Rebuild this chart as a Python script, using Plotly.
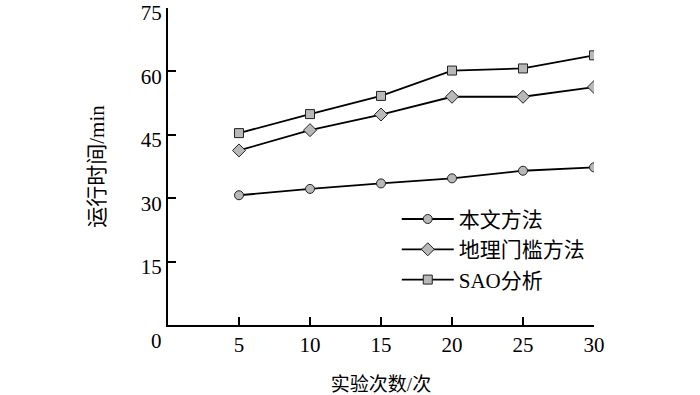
import plotly.graph_objects as go

runs = [5, 10, 15, 20, 25, 30]
ours = [30.7, 32.2, 33.5, 34.7, 36.5, 37.3]
geo_threshold = [41.3, 46.1, 49.8, 54.0, 54.0, 56.3]
sao = [45.4, 49.9, 54.2, 60.2, 60.7, 63.8]
names = ["本文方法", "地理门槛方法", "SAO分析"]
x_ticks = [5, 10, 15, 20, 25, 30]
y_ticks = [15, 30, 45, 60, 75]

FONT = "Liberation Serif, Times New Roman, Noto Sans CJK SC"
fig = go.Figure()
for vals, nm, sym, sz in [(ours, names[0], "circle", 9),
                          (geo_threshold, names[1], "diamond", 10),
                          (sao, names[2], "square", 9)]:
    fig.add_trace(go.Scatter(
        x=runs, y=vals, name=nm, mode="lines+markers",
        line=dict(color="black", width=1.8),
        marker=dict(symbol=sym, size=sz, color="#b8b8b8",
                    line=dict(color="#222", width=1)),
    ))

fig.update_layout(
    width=700, height=395,
    margin=dict(l=168, r=106, t=8, b=70, autoexpand=False),
    paper_bgcolor="white", plot_bgcolor="white",
    font=dict(family=FONT, size=21, color="black"),
    showlegend=True,
    legend=dict(x=0.537, y=0.398, xanchor="left", yanchor="top",
                bgcolor="rgba(0,0,0,0)", font=dict(size=21), tracegroupgap=0,
                itemwidth=52),
    xaxis=dict(range=[0, 30], tickvals=x_ticks, showgrid=False, zeroline=False,
               showline=True, linecolor="black", linewidth=2,
               ticks="inside", ticklen=8, tickwidth=2, tickcolor="black",
               ticklabeloverflow="allow", automargin=False,
               title=dict(text="实验次数/次", standoff=21, font=dict(size=19)),
               tickfont=dict(size=21)),
    yaxis=dict(range=[0, 75], tickvals=y_ticks, showgrid=False, zeroline=False,
               showline=True, linecolor="black", linewidth=2,
               ticks="inside", ticklen=8, tickwidth=2, tickcolor="black",
               ticklabeloverflow="allow", automargin=False, ticklabelshift=5,
               title=dict(text="运行时间/min", standoff=30, font=dict(size=21)),
               tickfont=dict(size=21)),
)
fig.add_annotation(x=0, y=0, xref="x", yref="y", text="0", showarrow=False,
                   xanchor="right", yanchor="top", xshift=-4, yshift=-2,
                   font=dict(size=21, family=FONT))
fig.write_html("out.html", config={"displayModeBar": False},
               post_script="document.body.style.margin='0';")
